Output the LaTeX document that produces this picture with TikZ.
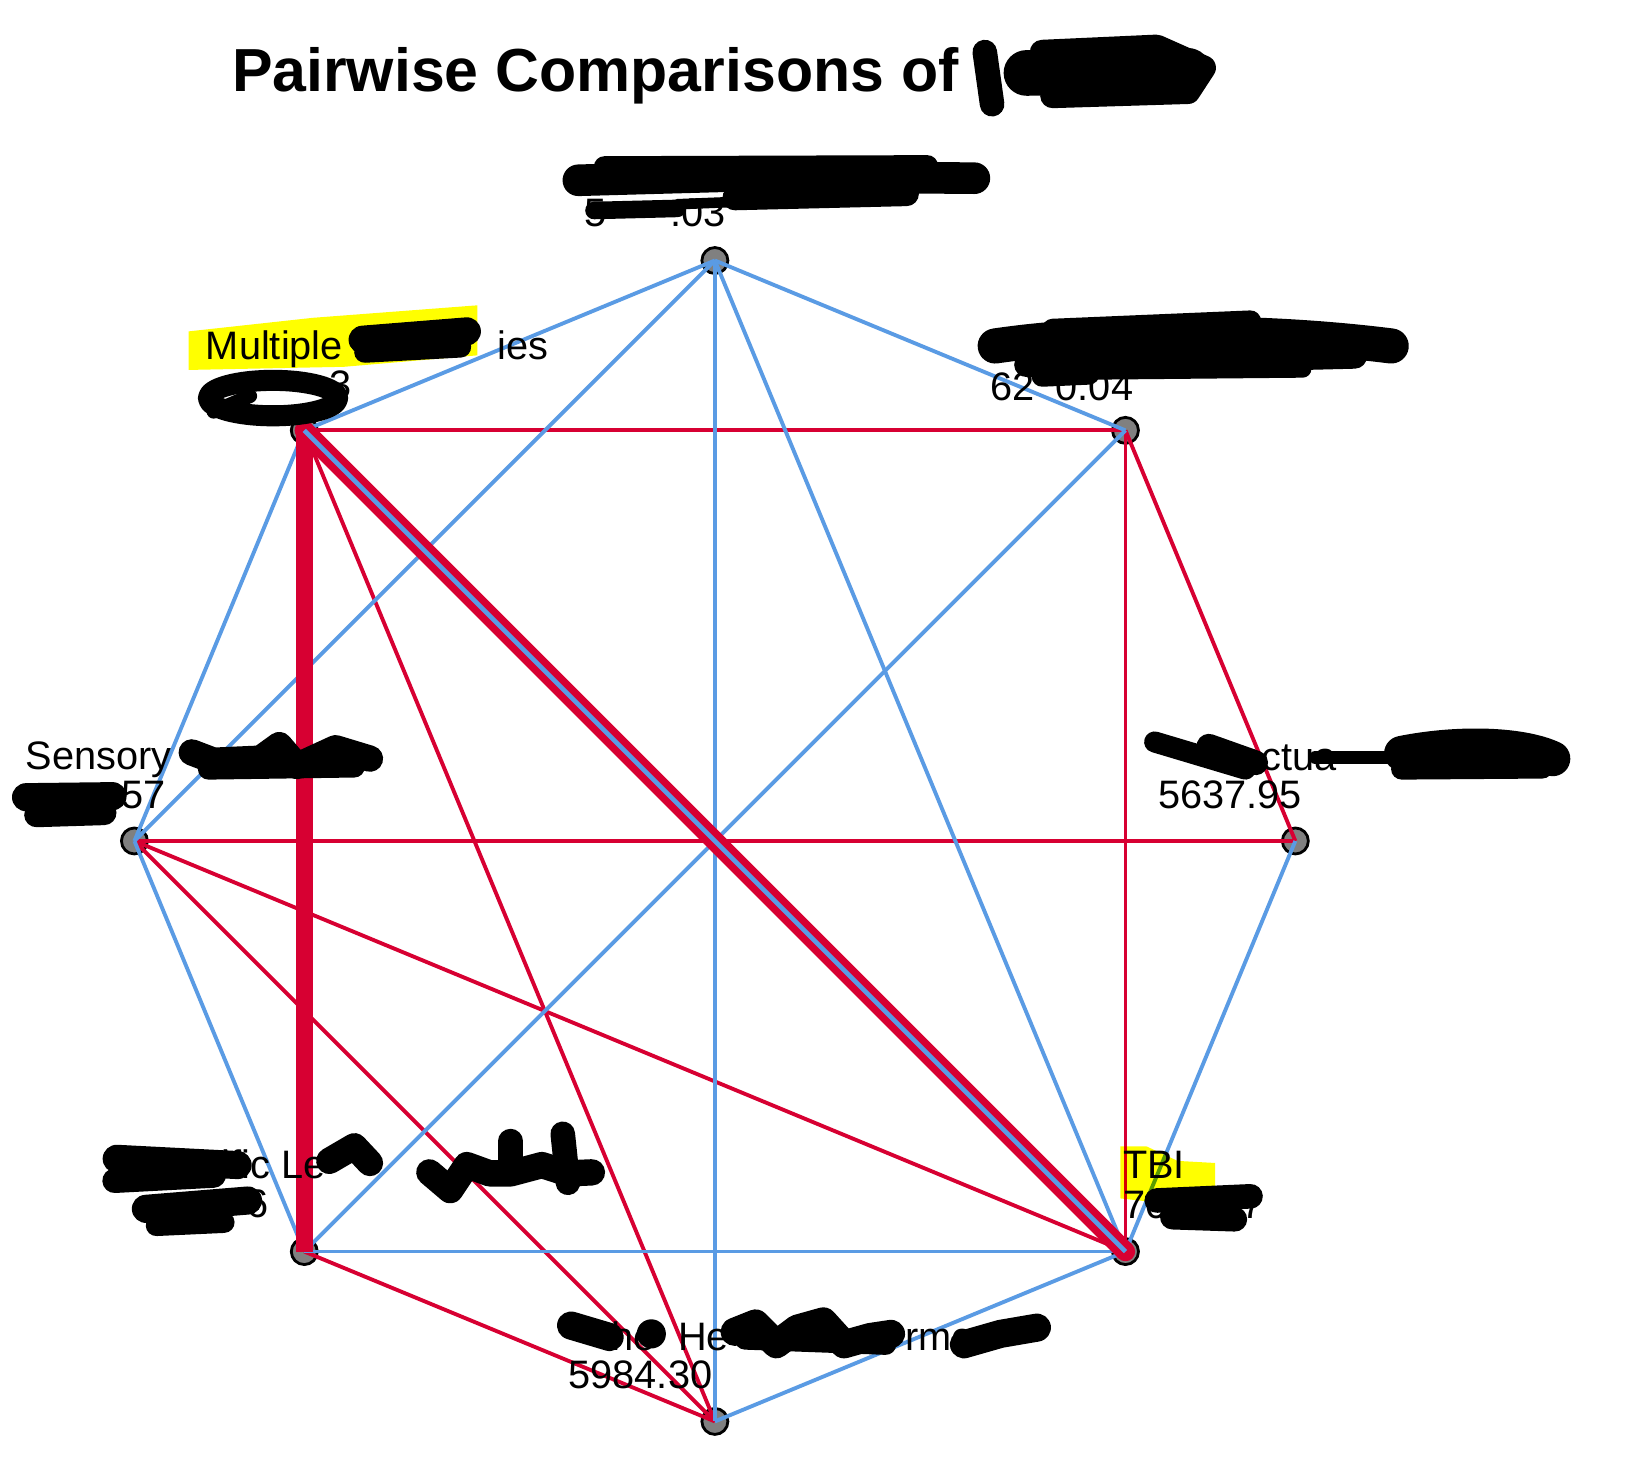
\documentclass[tikz,border=0pt]{standalone}
\usepackage{fontspec}
\setmainfont{Liberation Sans}
\definecolor{edgeblue}{RGB}{90,155,228}
\definecolor{edgered}{RGB}{215,0,50}
\definecolor{hiyellow}{RGB}{255,255,0}
\tikzset{
  vtx/.style={circle, draw=black, line width=0.8pt, fill=gray, minimum size=7.4pt, inner sep=0pt},
  blueedge/.style={edgeblue, line width=1.1pt},
  rededge/.style={edgered, line width=1.1pt},
  lbl/.style={inner sep=0pt, font=\fontsize{11.3}{11}\selectfont},
  scrib/.style={black, line width=7pt, line cap=round, line join=round},
  hilite/.style={fill=hiyellow}
}
\begin{document}
\begin{tikzpicture}[x=0.0104167cm, y=-0.0104167cm]
  \fill[white] (0,0) rectangle (1568,1413);
  \useasboundingbox (0,0) rectangle (1568,1413);
  % vertices
  \node[vtx] (t)  at (686,250) {};
  \node[vtx] (ur) at (1080,413) {};
  \node[vtx] (r)  at (1243,807) {};
  \node[vtx] (br) at (1080,1201) {};
  \node[vtx] (b)  at (686,1364) {};
  \node[vtx] (bl) at (292,1201) {};
  \node[vtx] (l)  at (129,807) {};
  \node[vtx] (ul) at (292,413) {};
  % edges
  \foreach \a/\b in {ul/ur,ul/b,ur/r,ur/br,r/l,l/br,l/b,bl/b}
    \draw[rededge] (\a.center) -- (\b.center);
  \foreach \a/\b in {t/ul,t/ur,t/b,t/br,t/l,ul/l,ur/bl,r/br,l/bl,bl/br,b/br}
    \draw[blueedge] (\a.center) -- (\b.center);
  \draw[edgered, line width=5pt] (ul.center) -- (bl.center);
  \draw[edgered, line width=5.5pt, line cap=round] (ul.center) -- (br.center);
  \draw[edgeblue, line width=1.3pt] (ul.center) -- (br.center);
  % title and labels
  \node[anchor=base west, inner sep=0pt, font=\bfseries\fontsize{17.3}{20}\selectfont] (title) at (222,88) {Pairwise Comparisons of};
  \node[lbl, anchor=base west] (tb) at (560,217) {5};
  \node[lbl, anchor=base east] (tc) at (697,217) {.03};
  \node[lbl, anchor=base west] (ula) at (197,345) {Multiple};
  \node[lbl, anchor=base east] (ulb) at (527,345) {ies};
  \node[lbl, anchor=base east] (ulc) at (338,382) {3};
  \node[lbl, anchor=base east] (ura) at (1341,346) {nt};
  \node[lbl, anchor=base west] (urb) at (950,384) {62};
  \node[lbl, anchor=base east] (urc) at (1088,384) {0.04};
  \node[lbl, anchor=base west] (ra) at (1189,739) {ectua};
  \node[lbl, anchor=base west] (rb) at (1111,776) {5637.95};
  \node[lbl, anchor=base west] (bra) at (1077,1131) {TBI};
  \node[lbl, anchor=base west] (brb) at (1077,1169) {70};
  \node[lbl, anchor=base east] (brc) at (1213,1169) {7};
  \node[lbl, anchor=base west] (ba) at (586,1296) {he};
  \node[lbl, anchor=base west] (bb) at (650,1296) {He};
  \node[lbl, anchor=base west] (bc) at (868,1296) {rme};
  \node[lbl, anchor=base west] (bd) at (545,1332) {5984.30};
  \node[lbl, anchor=base west] (bla) at (212,1131) {ific Le};
  \node[lbl, anchor=base east] (blb) at (258,1168) {6};
  \node[lbl, anchor=base west] (la) at (24,738) {Sensory};
  \node[lbl, anchor=base east] (lb) at (160,776) {57};
  % highlighter marks
  \begin{scope}[blend mode=multiply]
    \fill[hilite] (181,318) -- (300,305) -- (458,293) -- (458,341) -- (330,352) -- (181,355) -- cycle;
    \fill[hilite] (1075,1100) -- (1100,1100) -- (1130,1114) -- (1166,1116) -- (1166,1150) -- (1130,1156) -- (1075,1150) -- cycle;
  \end{scope}
  % scribbles
  \draw[scrib] (945,50) -- (952,100);
  \draw[scrib, line width=13pt] (985,70) -- (1140,68);
  \draw[scrib] (1000,50) -- (1110,45) -- (1155,65) -- (1140,88) -- (1010,92);
  \draw[scrib, line width=9pt] (555,173) -- (700,169) -- (935,171);
  \draw[scrib, line width=6pt] (580,160) -- (890,159);
  \draw[scrib] (705,190) -- (870,186);
  \draw[scrib, line width=5pt] (570,202) -- (650,200);
  \draw[scrib, line width=3pt] (650,196) -- (725,193);
  \draw[scrib, line width=8pt] (348,326) -- (448,318);
  \draw[scrib, line width=6pt] (350,338) -- (442,333);
  \draw[scrib, line width=6pt] (262,382) ellipse [x radius=62, y radius=17];
  \draw[scrib, line width=4pt] (205,395) -- (240,380);
  \draw[scrib, line width=10pt] (955,332) .. controls (1050,318) and (1200,315) .. (1335,332);
  \draw[scrib] (985,350) -- (1300,342);
  \draw[scrib, line width=6pt] (1010,316) -- (1200,308);
  \draw[scrib, line width=6pt] (1000,361) -- (1045,359);
  \draw[scrib, line width=5pt] (1040,356) -- (1250,354);
  \draw[scrib, line width=6pt] (1108,712) -- (1195,738);
  \draw[scrib] (1160,716) -- (1205,732);
  \draw[scrib, line width=3.5pt] (1262,727) -- (1340,727);
  \draw[scrib, line width=10pt] (1345,723) .. controls (1400,712) and (1460,714) .. (1490,728);
  \draw[scrib, line width=6pt] (1345,738) -- (1480,737);
  \draw[scrib] (1110,1152) -- (1200,1148);
  \draw[scrib] (1125,1168) -- (1185,1170);
  \draw[scrib, line width=8pt] (548,1272) -- (585,1283);
  \fill (625,1280) circle (14);
  \draw[scrib, line width=8pt] (705,1278) -- (725,1270) -- (745,1290) -- (765,1275) -- (790,1268) -- (810,1290) -- (835,1283) -- (855,1280);
  \draw[scrib, line width=6pt] (715,1285) -- (850,1290);
  \draw[scrib, line width=8pt] (925,1290) -- (960,1280) -- (995,1274);
  \draw[scrib, line width=8pt] (112,1112) -- (228,1118);
  \draw[scrib] (110,1133) -- (205,1128);
  \draw[scrib, line width=8pt] (140,1160) -- (238,1152);
  \draw[scrib, line width=6pt] (150,1176) -- (215,1173);
  \draw[scrib, line width=7.5pt] (316,1114) -- (340,1100) -- (355,1116);
  \draw[scrib, line width=7.5pt] (412,1125) -- (432,1142) -- (448,1118) -- (470,1126) -- (490,1126) -- (520,1118) -- (545,1126) -- (568,1125);
  \draw[scrib, line width=7pt] (490,1095) -- (490,1126);
  \draw[scrib, line width=7pt] (540,1088) -- (545,1135);
  \draw[scrib, line width=7.5pt] (184,722) -- (205,730) -- (250,728) -- (268,715) -- (285,735) -- (322,718) -- (355,728);
  \draw[scrib, line width=6pt] (200,738) -- (340,736);
  \draw[scrib, line width=8pt] (25,765) -- (108,764);
  \draw[scrib] (35,782) -- (100,780);
\end{tikzpicture}
\end{document}
